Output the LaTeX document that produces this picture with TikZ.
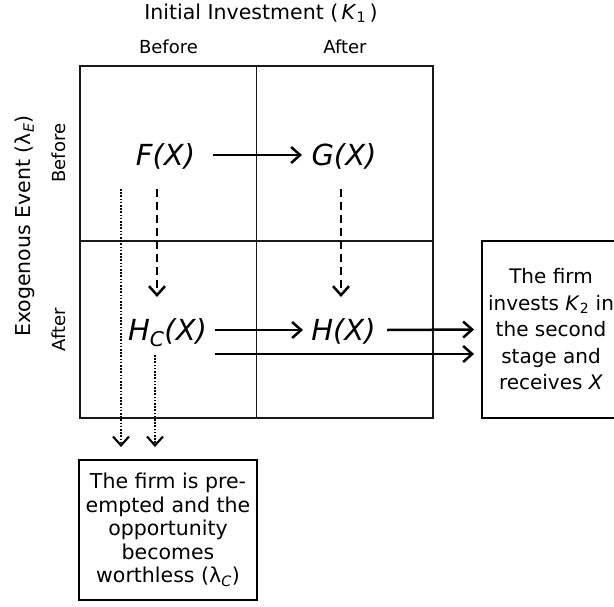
\documentclass[tikz,border=0pt]{standalone}
\usepackage{fontspec}
\setmainfont{DejaVu Sans}
\usetikzlibrary{arrows.meta}
\begin{document}
\begin{tikzpicture}[x=1pt,y=-1pt,
  gridline/.style={line width=1.9pt, draw=black!90},
  fn/.style={font=\fontsize{29}{32}\selectfont\itshape, inner sep=0pt, text height=24pt, text depth=4pt},
  lbl/.style={font=\fontsize{18}{21}\selectfont, inner sep=0pt},
  axislbl/.style={font=\fontsize{20.5}{24}\selectfont, inner sep=0pt},
  solidarrow/.style={line width=2.5pt, -{Straight Barb[length=9pt,width=16pt]}},
  dasharrow/.style={solidarrow, dash pattern=on 8pt off 5pt},
  dotarrow/.style={solidarrow, line width=2.1pt, dash pattern=on 1.6pt off 1.6pt},
  infobox/.style={draw, line width=1.9pt, align=center, inner sep=0pt}
]
\useasboundingbox (0,0) rectangle (614,606);
\clip (0,0) rectangle (614,606);

% grid
\draw[gridline] (80,66) rectangle (433,418);
\draw[gridline] (256.5,66) -- (256.5,418);
\draw[gridline] (80,241) -- (433,241);

% axis labels
\node[axislbl] (title) at (261,13) {Initial Investment (\,\textit{K}\textsubscript{1}\,)};
\node[lbl] (colB) at (168.5,47) {Before};
\node[lbl] (colA) at (345,47) {After};
\node[axislbl, rotate=90] (side) at (25,226) {Exogenous Event (λ\textsubscript{\textit{E}})};
\node[lbl, rotate=90] (rowB) at (59,153) {Before};
\node[lbl, rotate=90] (rowA) at (59,330) {After};

% functions
\node[fn] (F) at (165.5,155) {F(X)};
\node[fn] (G) at (344,155) {G(X)};
\node[fn] (HC) at (167.5,330) {H\textsubscript{C}(X)};
\node[fn] (H) at (343.5,330) {H(X)};

% boxes
\node[infobox, font=\fontsize{20}{26.5}\selectfont, minimum width=138.6pt, minimum height=177pt] (inv) at (551,329.5)
  {The firm\\invests \textit{K}\textsubscript{2} in\\the second\\stage and\\receives \textit{X}};
\node[infobox, font=\fontsize{20.5}{23.5}\selectfont, minimum width=178pt, minimum height=140pt] (pre) at (168,530)
  {The firm is pre-\\empted and the\\opportunity\\becomes\\worthless (λ\textsubscript{\textit{C}})};

% connectors
\draw[solidarrow] ([xshift=47.5pt]F.center) -- ([xshift=-42pt]G.center);
\draw[solidarrow] ([xshift=47.5pt]HC.center) -- ([xshift=-40.5pt]H.center);
\draw[solidarrow] ([xshift=43.5pt]H.center) -- ([xshift=-6.7pt]inv.west);
\draw[solidarrow] ([xshift=47.5pt,yshift=-24pt]HC.center) -- ([xshift=-6.7pt,yshift=-24.5pt]inv.west);
\draw[dasharrow] ([xshift=-8.5pt,yshift=-34pt]F.center) -- ([xshift=-10.5pt,yshift=33pt]HC.center);
\draw[dasharrow] ([xshift=-3pt,yshift=-34pt]G.center) -- ([xshift=-2.5pt,yshift=33pt]H.center);
\draw[dotarrow] ([xshift=-44.5pt,yshift=-34pt]F.center) -- ([xshift=-47pt,yshift=12pt]pre.north);
\draw[dotarrow] ([xshift=-12.5pt,yshift=-25pt]HC.center) -- ([xshift=-13pt,yshift=12pt]pre.north);
\end{tikzpicture}
\end{document}
